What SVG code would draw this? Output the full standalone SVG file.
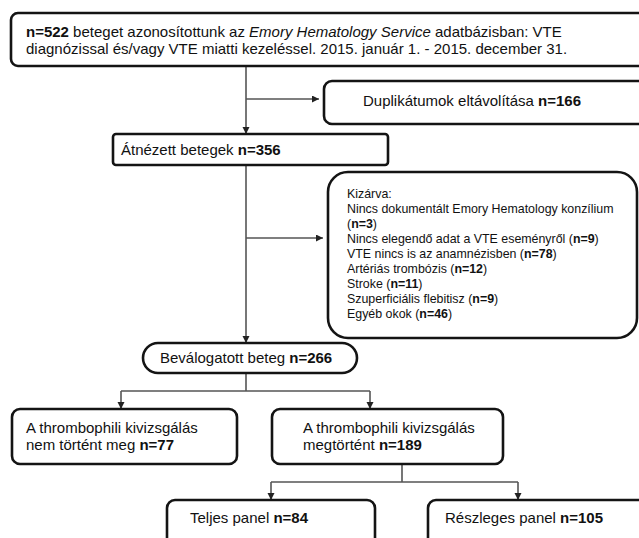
<svg xmlns="http://www.w3.org/2000/svg" width="639" height="538" viewBox="0 0 639 538">
  <defs>
    <marker id="arrow" markerUnits="userSpaceOnUse" markerWidth="8" markerHeight="8" refX="7" refY="3.5" orient="auto">
      <path d="M0,0 L7,3.5 L0,7 z" fill="#222"/>
    </marker>
  </defs>
  <style>
    .box { fill: #fff; stroke: #141414; stroke-width: 2.6; }
    .conn { fill: none; stroke: #555; stroke-width: 1.6; }
    .t { font-family: "Liberation Sans", Arial, sans-serif; font-size: 15px; fill: #111; }
    .s { font-family: "Liberation Sans", Arial, sans-serif; font-size: 12.4px; fill: #111; }
    .b { font-weight: bold; }
  </style>
  <rect width="639" height="538" fill="#fff"/>

  <!-- connectors -->
  <g id="connectors">
    <path class="conn" d="M246,66 V134" marker-end="url(#arrow)"/>
    <path class="conn" d="M246,99 H319" marker-end="url(#arrow)"/>
    <path class="conn" d="M246,165 V343" marker-end="url(#arrow)"/>
    <path class="conn" d="M246,238 H323" marker-end="url(#arrow)"/>
    <path class="conn" d="M246,373 V391 M121,391 H370"/>
    <path class="conn" d="M121,391 V409" marker-end="url(#arrow)"/>
    <path class="conn" d="M370,391 V409" marker-end="url(#arrow)"/>
    <path class="conn" d="M402,464 V482 M271,482 H518"/>
    <path class="conn" d="M271,482 V500" marker-end="url(#arrow)"/>
    <path class="conn" d="M518,482 V500" marker-end="url(#arrow)"/>
  </g>

  <!-- nodes -->
  <g id="identified">
    <rect class="box" x="11" y="13" width="645" height="53" rx="7"/>
    <text class="t" x="26" y="37"><tspan class="b">n=522</tspan> beteget azonosítottunk az <tspan font-style="italic">Emory Hematology Service</tspan> adatbázisban: VTE</text>
    <text class="t" x="26" y="54">diagnózissal és/vagy VTE miatti kezeléssel. 2015. január 1. - 2015. december 31.</text>
  </g>

  <g id="duplicates">
    <rect class="box" x="324" y="81" width="330" height="43" rx="8"/>
    <text class="t" x="363" y="106">Duplikátumok eltávolítása <tspan class="b">n=166</tspan></text>
  </g>

  <g id="reviewed">
    <rect class="box" x="113" y="134" width="275" height="31" rx="3"/>
    <text class="t" x="121" y="155">Átnézett betegek <tspan class="b">n=356</tspan></text>
  </g>

  <g id="excluded">
    <rect class="box" x="328" y="172" width="309" height="166" rx="20"/>
    <text class="s" x="347" y="198">Kizárva:</text>
    <text class="s" x="347" y="213">Nincs dokumentált Emory Hematology konzílium</text>
    <text class="s" x="347" y="228">(<tspan class="b">n=3</tspan>)</text>
    <text class="s" x="347" y="243">Nincs elegendő adat a VTE eseményről (<tspan class="b">n=9</tspan>)</text>
    <text class="s" x="347" y="258">VTE nincs is az anamnézisben (<tspan class="b">n=78</tspan>)</text>
    <text class="s" x="347" y="273">Artériás trombózis (<tspan class="b">n=12</tspan>)</text>
    <text class="s" x="347" y="288">Stroke (<tspan class="b">n=11</tspan>)</text>
    <text class="s" x="347" y="303">Szuperficiális flebitisz (<tspan class="b">n=9</tspan>)</text>
    <text class="s" x="347" y="318">Egyéb okok (<tspan class="b">n=46</tspan>)</text>
  </g>

  <g id="selected">
    <rect class="box" x="143" y="343" width="214" height="30" rx="15"/>
    <text class="t" x="160" y="363">Beválogatott beteg <tspan class="b">n=266</tspan></text>
  </g>

  <g id="not-tested">
    <rect class="box" x="12" y="409" width="225" height="55" rx="8"/>
    <text class="t" x="26" y="433">A thrombophili kivizsgálás</text>
    <text class="t" x="26" y="450">nem történt meg <tspan class="b">n=77</tspan></text>
  </g>

  <g id="tested">
    <rect class="box" x="272" y="409" width="231" height="55" rx="8"/>
    <text class="t" x="303" y="433">A thrombophili kivizsgálás</text>
    <text class="t" x="303" y="450">megtörtént <tspan class="b">n=189</tspan></text>
  </g>

  <g id="full-panel">
    <rect class="box" x="167" y="500" width="208" height="60" rx="8"/>
    <text class="t" x="190" y="523">Teljes panel <tspan class="b">n=84</tspan></text>
  </g>

  <g id="partial-panel">
    <rect class="box" x="428" y="500" width="230" height="60" rx="8"/>
    <text class="t" x="445" y="523">Részleges panel <tspan class="b">n=105</tspan></text>
  </g>
</svg>
